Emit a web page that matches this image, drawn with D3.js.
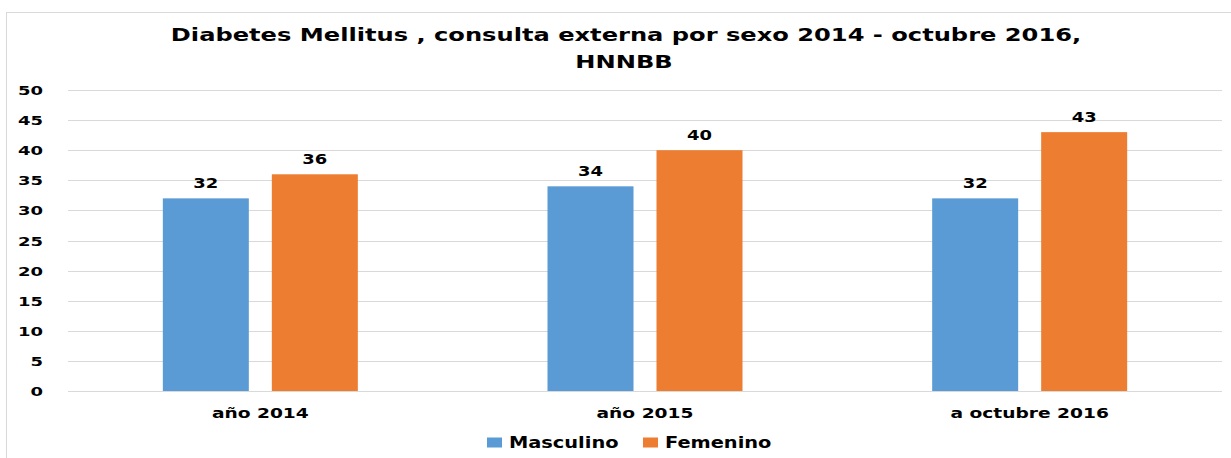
<!DOCTYPE html>
<html><head><meta charset="utf-8">
<script src="https://cdn.jsdelivr.net/npm/d3@7"></script>
<style>body{margin:0;background:#fff;}svg{display:block;font-family:"DejaVu Sans",sans-serif;font-weight:bold;}</style>
</head><body>
<svg id="c" width="1231" height="458"></svg>
<script>
const categories = ["año 2014", "año 2015", "a octubre 2016"];
const seriesNames = ["Masculino", "Femenino"];
const masculino = [32, 34, 32];
const femenino = [36, 40, 43];
const yTicks = [0, 5, 10, 15, 20, 25, 30, 35, 40, 45, 50];
const colors = ["#5B9BD5", "#ED7D31"];

(function () {
const svg = d3.select("#c");
const SX = 1.38;
svg.append("rect").attr("x", 6.5).attr("y", 12.5).attr("width", 1240).attr("height", 460)
  .attr("fill", "none").attr("stroke", "#d9d9d9");

const pL = 68, pR = 1222, pT = 90, pB = 391;
const x = d3.scaleBand().domain(categories).range([pL, pR]);
const y = d3.scaleLinear().domain([0, 50]).range([pB, pT]);

svg.append("g").selectAll("line").data(yTicks).join("line")
  .attr("x1", pL).attr("x2", pR).attr("y1", d => Math.round(y(d)) + 0.5).attr("y2", d => Math.round(y(d)) + 0.5)
  .attr("stroke", "#d9d9d9").attr("stroke-width", 1);

const yAxis = svg.append("g").attr("transform", `translate(${pL - 25},0)`)
  .call(d3.axisLeft(y).tickValues(yTicks).tickSize(0).tickPadding(0));
yAxis.select(".domain").remove();
yAxis.selectAll("text").attr("font-size", 12.5).attr("font-family", "DejaVu Sans").attr("font-weight", "bold")
  .attr("fill", "#000").attr("dy", "0.36em").attr("transform", `scale(${1.44},1)`);

const xAxis = svg.append("g").attr("transform", `translate(0,${pB})`)
  .call(d3.axisBottom(x).tickSize(0).tickPadding(0));
xAxis.select(".domain").remove();
xAxis.selectAll("text").attr("font-size", 13.5).attr("font-family", "DejaVu Sans").attr("font-weight", "bold")
  .attr("fill", "#000").attr("dy", 0).attr("y", 27).attr("transform", `scale(${SX},1)`);

const barW = 86, gap = 23;
const data = [masculino, femenino];
data.forEach((vals, s) => {
  const g = svg.append("g");
  const off = s === 0 ? -(gap / 2 + barW) : gap / 2;
  g.selectAll("rect").data(vals).join("rect")
    .attr("x", (d, i) => x(categories[i]) + x.bandwidth() / 2 + off)
    .attr("y", d => y(d)).attr("width", barW).attr("height", d => pB - y(d))
    .attr("fill", colors[s]);
  g.selectAll("text").data(vals).join("text")
    .attr("transform", (d, i) => `translate(${x(categories[i]) + x.bandwidth() / 2 + off + barW / 2},${y(d) - 10}) scale(1.33,1)`)
    .attr("text-anchor", "middle").attr("font-size", 13.5).attr("fill", "#000")
    .text(d => d);
});

svg.append("text").attr("transform", `translate(626,41) scale(${SX},1)`).attr("text-anchor", "middle").attr("font-size", 17.5)
  .text("Diabetes Mellitus , consulta externa por sexo 2014 - octubre 2016,");
svg.append("text").attr("transform", `translate(624,68) scale(${SX},1)`).attr("text-anchor", "middle").attr("font-size", 17.5)
  .text("HNNBB");

const legX = [487, 643];
seriesNames.forEach((n, i) => {
  svg.append("rect").attr("x", legX[i]).attr("y", 437.5).attr("width", 15).attr("height", 10).attr("fill", colors[i]);
  svg.append("text").attr("transform", `translate(${legX[i] + 22},448) scale(1.25,1)`).attr("font-size", 15.5).text(n);
});
})();
</script>
</body></html>
